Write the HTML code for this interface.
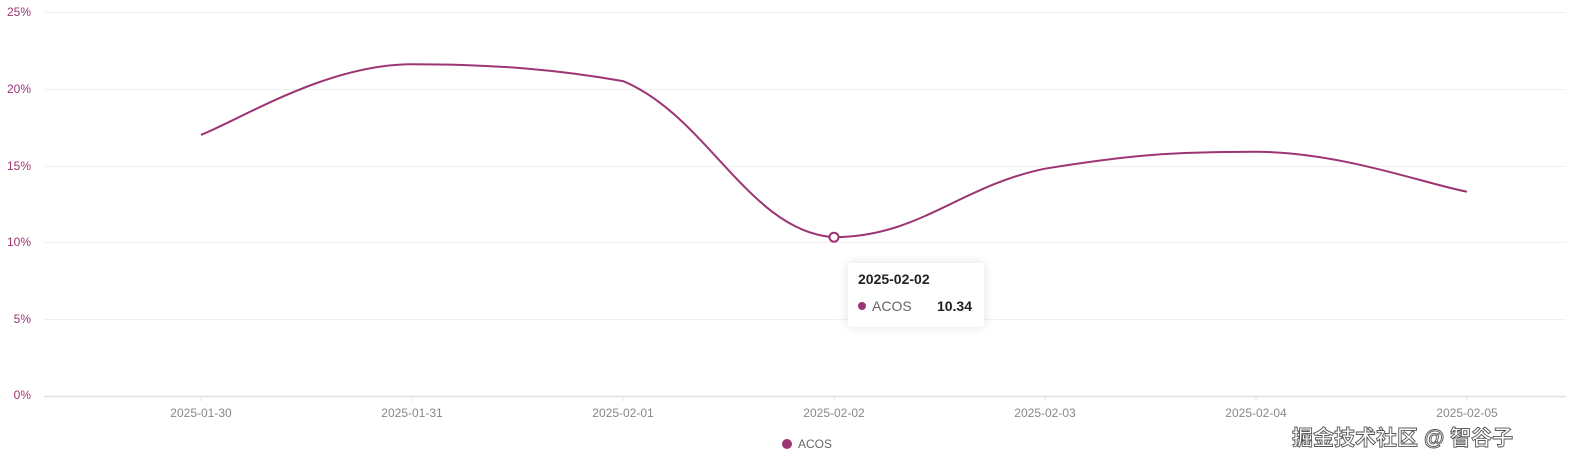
<!DOCTYPE html>
<html><head><meta charset="utf-8"><style>
html,body{margin:0;padding:0;background:#fff;width:1574px;height:469px;overflow:hidden;font-family:"Liberation Sans","Noto Sans CJK SC",sans-serif}
</style></head><body>
<svg width="1574" height="469" xmlns="http://www.w3.org/2000/svg" style="position:absolute;left:0;top:0">
<g stroke="#f0f0f0" stroke-width="1">
<line x1="44" x2="1566" y1="12.5" y2="12.5"/>
<line x1="44" x2="1566" y1="89.5" y2="89.5"/>
<line x1="44" x2="1566" y1="166.5" y2="166.5"/>
<line x1="44" x2="1566" y1="242.5" y2="242.5"/>
<line x1="44" x2="1566" y1="319.5" y2="319.5"/>
</g>
<line x1="44" x2="1566" y1="396.5" y2="396.5" stroke="#e0e0e0" stroke-width="1.5"/>
<g stroke="#e0e0e0"><line x1="201" x2="201" y1="397" y2="401"/><line x1="412" x2="412" y1="397" y2="401"/><line x1="623" x2="623" y1="397" y2="401"/><line x1="834" x2="834" y1="397" y2="401"/><line x1="1045" x2="1045" y1="397" y2="401"/><line x1="1256" x2="1256" y1="397" y2="401"/><line x1="1467" x2="1467" y1="397" y2="401"/></g>
<g fill="#9c3572" font-size="12" text-anchor="end">
<text x="31" y="16">25%</text><text x="31" y="93">20%</text><text x="31" y="170">15%</text><text x="31" y="246">10%</text><text x="31" y="323">5%</text><text x="31" y="399">0%</text>
</g>
<g fill="#888" font-size="12" text-anchor="middle">
<text x="201" y="417">2025-01-30</text><text x="412" y="417">2025-01-31</text><text x="623" y="417">2025-02-01</text><text x="834" y="417">2025-02-02</text><text x="1045" y="417">2025-02-03</text><text x="1256" y="417">2025-02-04</text><text x="1467" y="417">2025-02-05</text>
</g>
<path d="M201,134.9 C243.2,118 327.6,64.2 412,64.2 C496.4,64.2 560,70 623,81.1 C707.4,115.7 749.6,232 834,237.2 C918.4,237.2 960.6,185.8 1045,168.7 C1129.4,155 1171.6,151.8 1256,151.8 C1340.4,152 1424.8,183.7 1467,191.7" fill="none" stroke="#9c3572" stroke-width="2"/>
<circle cx="834" cy="237.2" r="4.5" fill="#fff" stroke="#9c3572" stroke-width="2"/>
<circle cx="787" cy="444" r="5" fill="#9c3572"/>
<text x="798" y="448" font-size="12" fill="#666">ACOS</text>
<text x="1292" y="445" font-size="21" fill="#fff" stroke="#555" stroke-width="0.9" font-weight="bold" font-family="Liberation Sans, Noto Sans CJK SC, sans-serif">掘金技术社区 @ 智谷子</text>
</svg>
<div style="position:absolute;left:848px;top:263px;width:136px;height:64px;background:#fff;border-radius:4px;box-shadow:0 0 10px rgba(0,0,0,0.12)">
<div style="position:absolute;left:10px;top:8px;font-size:14px;font-weight:bold;color:#222">2025-02-02</div>
<div style="position:absolute;left:10px;top:39px;width:8px;height:8px;border-radius:50%;background:#9c3572"></div>
<div style="position:absolute;left:24px;top:35px;font-size:14px;color:#666">ACOS</div>
<div style="position:absolute;right:12px;top:35px;font-size:14px;font-weight:bold;color:#222">10.34</div>
</div>
</body></html>
